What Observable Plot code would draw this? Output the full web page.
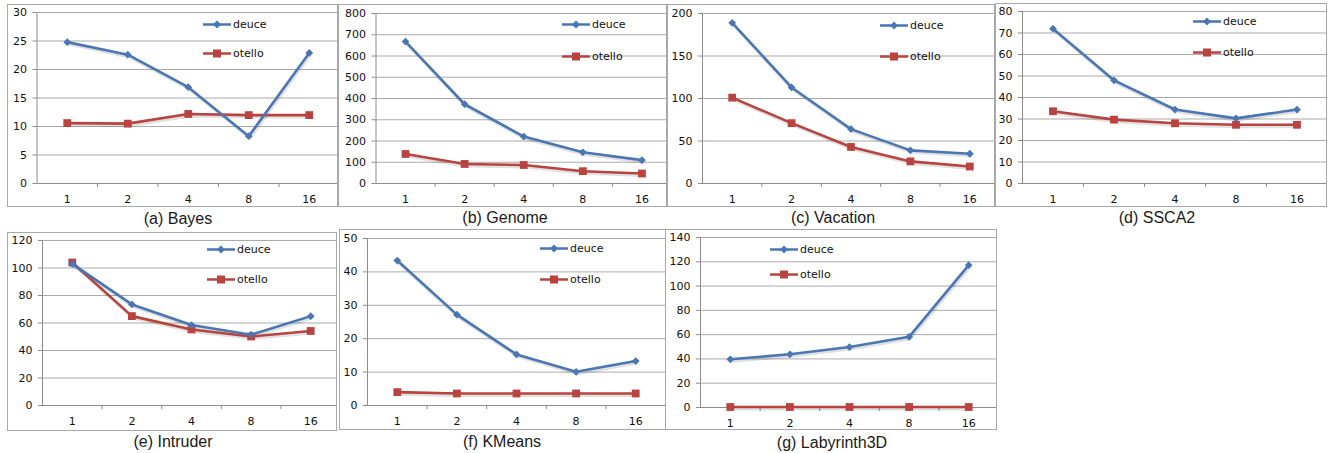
<!DOCTYPE html>
<html>
<head>
<meta charset="utf-8">
<script src="https://cdn.jsdelivr.net/npm/d3@7"></script>
<script src="https://cdn.jsdelivr.net/npm/@observablehq/plot@0.6"></script>
<style>
  html, body { margin: 0; padding: 0; background: #fff; }
  #root { position: relative; width: 1333px; height: 453px; overflow: hidden; background: #fff; }
  .frame { position: absolute; box-sizing: border-box; border: 1.5px solid #a8a8a8; overflow: hidden; background: #fff; }
  .caption { position: absolute; font-family: "Liberation Sans", Arial, sans-serif; font-size: 16px; color: #1a1a1a; white-space: nowrap; transform: translate(-50%, -50%); }
  .legend { position: absolute; font-family: "DejaVu Sans", sans-serif; font-size: 11px; color: #111; white-space: nowrap; display: flex; align-items: center; transform: translateY(-50%); }
  .legend svg { display: block; margin-right: 2px; }
</style>
</head>
<body>
<div id="root"></div>
<script>
// ---- data ----
const threads = ["1", "2", "4", "8", "16"];
const seriesNames = ["deuce", "otello"];
const seriesColors = ["#4a76b3", "#b8433f"];

const bayesDeuce = [24.8, 22.6, 16.9, 8.3, 22.9];
const bayesOtello = [10.6, 10.5, 12.2, 12.0, 12.0];
const genomeDeuce = [668, 373, 221, 147, 110];
const genomeOtello = [139, 92, 87, 58, 47];
const vacationDeuce = [189, 113, 64, 39, 35];
const vacationOtello = [101, 71, 43, 26, 20];
const ssca2Deuce = [72, 48, 34.4, 30.3, 34.4];
const ssca2Otello = [33.6, 29.7, 28.0, 27.3, 27.3];
const intruderDeuce = [103, 73.5, 58.5, 51.5, 65];
const intruderOtello = [104, 65, 55.3, 50.2, 54.2];
const kmeansDeuce = [43.4, 27.2, 15.3, 10.1, 13.3];
const kmeansOtello = [4.0, 3.6, 3.6, 3.6, 3.6];
const labyrinthDeuce = [39.7, 43.8, 49.8, 58.2, 117.2];
const labyrinthOtello = [0.4, 0.4, 0.4, 0.4, 0.4];

const captions = ["(a) Bayes", "(b) Genome", "(c) Vacation", "(d) SSCA2", "(e) Intruder", "(f) KMeans", "(g) Labyrinth3D"];
const yMax = [30, 800, 200, 80, 120, 50, 140];
const yStep = [5, 100, 50, 10, 20, 10, 20];
const deuceSeries = [bayesDeuce, genomeDeuce, vacationDeuce, ssca2Deuce, intruderDeuce, kmeansDeuce, labyrinthDeuce];
const otelloSeries = [bayesOtello, genomeOtello, vacationOtello, ssca2Otello, intruderOtello, kmeansOtello, labyrinthOtello];

// ---- layout (pixels) ----
// frame [L,T,R,B], plot [left, top, zeroY, right], legend [x, y1, y2], caption [cx, cy]
const layout = [
  {frame: [7, 4, 338, 207],   plot: [36.5, 12, 183, 339],  legend: [203, 24, 53],   caption: [178, 219]},
  {frame: [338, 4, 667, 207], plot: [375.5, 13, 183, 671], legend: [562, 24, 56],   caption: [505, 218]},
  {frame: [667, 4, 995, 207], plot: [702, 13, 183, 999],   legend: [880, 25, 56],   caption: [833, 218]},
  {frame: [995, 3, 1327, 207], plot: [1022, 11, 183, 1327], legend: [1193, 21, 52], caption: [1157, 218]},
  {frame: [7, 232, 337, 431], plot: [42, 240, 405, 340],   legend: [207, 249, 279], caption: [173, 442]},
  {frame: [339, 229, 667, 430], plot: [367, 238, 405, 665], legend: [540, 248, 279], caption: [502, 442]},
  {frame: [665, 229, 997, 430], plot: [700, 237, 407, 998], legend: [770, 249, 274], caption: [832, 443]}
];

const diamond = {
  draw(ctx, size) {
    const s = Math.sqrt(size / 2);
    ctx.moveTo(0, -s); ctx.lineTo(s, 0); ctx.lineTo(0, s); ctx.lineTo(-s, 0); ctx.closePath();
  }
};

const root = document.getElementById("root");
const BW = 1.5;

layout.forEach((lay, k) => {
  const [L, T, R, B] = lay.frame;
  const [pl, pt, pz, pr] = lay.plot;
  const rows = [];
  threads.forEach((t, i) => {
    rows.push({series: "deuce", i: i + 0.5, t, v: deuceSeries[k][i]});
    rows.push({series: "otello", i: i + 0.5, t, v: otelloSeries[k][i]});
  });
  const dRows = rows.filter(d => d.series === "deuce");
  const oRows = rows.filter(d => d.series === "otello");
  const yt = d3.range(0, yMax[k] + yStep[k] / 2, yStep[k]);
  const centers = threads.map((_, i) => i + 0.5);
  const bounds = d3.range(1, threads.length + 1);

  const chart = Plot.plot({
    width: pr - L + 2,
    height: B - T,
    marginLeft: pl - L,
    marginRight: 2,
    marginTop: pt - T,
    marginBottom: B - pz,
    style: {fontFamily: "DejaVu Sans, sans-serif", fontSize: "11px", background: "transparent", overflow: "visible"},
    x: {domain: [0, threads.length], axis: null},
    y: {domain: [0, yMax[k]], axis: null},
    marks: [
      Plot.ruleY(yt, {stroke: "#ababab", strokeWidth: 1}),
      Plot.ruleX([0], {stroke: "#8c8c8c", strokeWidth: 1}),
      Plot.ruleY([0], {stroke: "#8c8c8c", strokeWidth: 1}),
      Plot.axisY(yt, {tickSize: 4, tickPadding: 6, stroke: "#8c8c8c", fill: "#111", fontSize: 11, tickFormat: d => String(d), label: null}),
      Plot.axisX(bounds, {tickSize: 4, stroke: "#8c8c8c", tickFormat: () => "", label: null}),
      Plot.axisX(centers, {tickSize: 0, tickPadding: 12, fill: "#111", fontSize: 11, tickFormat: d => threads[Math.floor(d)], label: null}),
      // shadows
      Plot.line(oRows, {x: "i", y: "v", stroke: "#000", strokeOpacity: 0.12, strokeWidth: 3, dx: 1, dy: 2}),
      Plot.line(dRows, {x: "i", y: "v", stroke: "#000", strokeOpacity: 0.12, strokeWidth: 3, dx: 1, dy: 2}),
      Plot.line(oRows, {x: "i", y: "v", stroke: seriesColors[1], strokeWidth: 2.6}),
      Plot.dot(oRows, {x: "i", y: "v", symbol: "square", r: 4.4, fill: seriesColors[1], stroke: "none"}),
      Plot.line(dRows, {x: "i", y: "v", stroke: seriesColors[0], strokeWidth: 2.6}),
      Plot.dot(dRows, {x: "i", y: "v", symbol: diamond, r: 3.1, fill: seriesColors[0], stroke: "none"})
    ]
  });
  chart.style.position = "absolute";
  chart.style.left = (-BW) + "px";
  chart.style.top = (-BW) + "px";
  chart.style.maxWidth = "none";

  const frame = document.createElement("div");
  frame.className = "frame";
  frame.style.left = L + "px";
  frame.style.top = T + "px";
  frame.style.width = (R - L) + "px";
  frame.style.height = (B - T) + "px";
  frame.appendChild(chart);
  root.appendChild(frame);

  // legend
  const [lx, ly1, ly2] = lay.legend;
  [[ly1, 0], [ly2, 1]].forEach(([ly, s]) => {
    const item = document.createElement("div");
    item.className = "legend";
    item.style.left = lx + "px";
    item.style.top = ly + "px";
    const marker = s === 0
      ? `<path d="M14,1 L18,5 L14,9 L10,5 Z" fill="${seriesColors[0]}"/>`
      : `<rect x="10" y="1" width="8" height="8" fill="${seriesColors[1]}"/>`;
    item.innerHTML = `<svg width="28" height="10"><line x1="0" y1="5" x2="28" y2="5" stroke="${seriesColors[s]}" stroke-width="2.6"/>${marker}</svg><span>${seriesNames[s]}</span>`;
    root.appendChild(item);
  });

  // caption
  const cap = document.createElement("div");
  cap.className = "caption";
  cap.style.left = lay.caption[0] + "px";
  cap.style.top = lay.caption[1] + "px";
  cap.textContent = captions[k];
  root.appendChild(cap);
});
</script>
</body>
</html>
